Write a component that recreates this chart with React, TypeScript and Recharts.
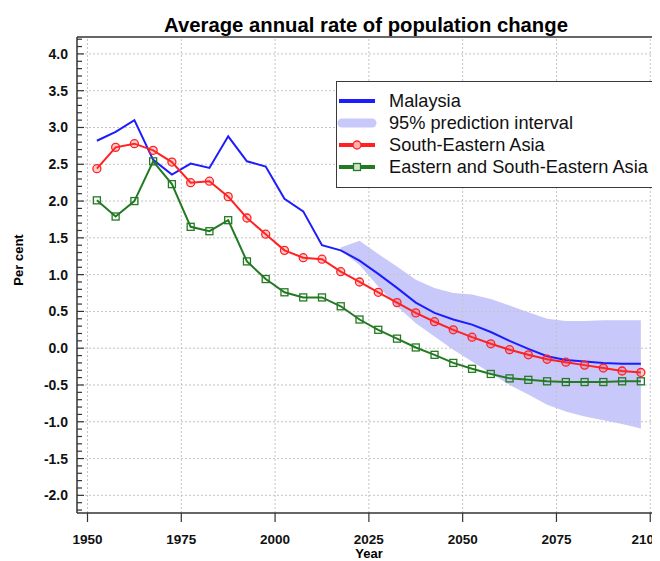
import React from 'react';
import { ComposedChart, Line, Area, XAxis, YAxis, ReferenceLine } from 'recharts';

// mid-points of the five-year periods
const YEARS = [
  1952.5, 1957.5, 1962.5, 1967.5, 1972.5, 1977.5, 1982.5, 1987.5, 1992.5, 1997.5,
  2002.5, 2007.5, 2012.5, 2017.5, 2022.5, 2027.5, 2032.5, 2037.5, 2042.5, 2047.5,
  2052.5, 2057.5, 2062.5, 2067.5, 2072.5, 2077.5, 2082.5, 2087.5, 2092.5, 2097.5,
];

const MALAYSIA = [
  2.82, 2.94, 3.1, 2.56, 2.36, 2.51, 2.45, 2.88, 2.54, 2.47,
  2.03, 1.86, 1.4, 1.33, 1.19, 1.01, 0.82, 0.62, 0.48, 0.39,
  0.32, 0.22, 0.1, -0.01, -0.11, -0.16, -0.18, -0.2, -0.21, -0.21,
];

const SE_ASIA = [
  2.44, 2.73, 2.78, 2.69, 2.53, 2.25, 2.27, 2.06, 1.77, 1.55,
  1.33, 1.23, 1.21, 1.04, 0.9, 0.76, 0.62, 0.48, 0.36, 0.25,
  0.15, 0.06, -0.02, -0.09, -0.15, -0.19, -0.23, -0.27, -0.31, -0.33,
];

const E_SE_ASIA = [
  2.01, 1.79, 2.0, 2.54, 2.23, 1.65, 1.59, 1.74, 1.18, 0.94,
  0.76, 0.69, 0.69, 0.57, 0.39, 0.25, 0.13, 0.01, -0.09, -0.2,
  -0.28, -0.35, -0.41, -0.43, -0.45, -0.46, -0.46, -0.46, -0.45, -0.45,
];

// 95% prediction interval for Malaysia (projections only)
const BAND_LOW = [
  null, null, null, null, null, null, null, null, null, null,
  null, null, null, 1.33, 1.13, 0.84, 0.57, 0.34, 0.16, -0.02,
  -0.18, -0.34, -0.5, -0.63, -0.77, -0.86, -0.93, -0.98, -1.03, -1.09,
];
const BAND_HIGH = [
  null, null, null, null, null, null, null, null, null, null,
  null, null, null, 1.37, 1.46, 1.28, 1.11, 0.93, 0.82, 0.75,
  0.73, 0.67, 0.58, 0.49, 0.4, 0.37, 0.37, 0.38, 0.38, 0.38,
];

const X_TICKS = [1950, 1975, 2000, 2025, 2050, 2075, 2100];
const Y_TICKS = [-2, -1.5, -1, -0.5, 0, 0.5, 1, 1.5, 2, 2.5, 3, 3.5, 4];

const SERIES_NAMES = ['Malaysia', '95% prediction interval', 'South-Eastern Asia', 'Eastern and South-Eastern Asia'];

const FONT = '"Liberation Sans", Arial, Helvetica, sans-serif';
const BLUE = '#1c1cff';
const BAND = '#c8c8fa';
const RED = '#ff2121';
const GREEN = '#237a23';
const AXIS = '#333';
const GRID = '#c4c4c4';

const data = YEARS.map((year, i) => ({
  year,
  malaysia: MALAYSIA[i],
  seAsia: SE_ASIA[i],
  eseAsia: E_SE_ASIA[i],
  band: BAND_LOW[i] == null ? null : [BAND_LOW[i], BAND_HIGH[i]],
}));

// minor ticks every 0.1 on the y axis, labels only on the 0.5 steps
const yMinorTicks: number[] = [];
for (let i = -22; i <= 42; i++) yMinorTicks.push(i / 10);

function YTick(props: any) {
  const { x, y, payload } = props;
  const v = payload.value as number;
  const major = Y_TICKS.some((t) => Math.abs(t - v) < 1e-6);
  return (
    <g>
      <line x1={x} x2={x + (major ? 7 : 5)} y1={y} y2={y} stroke={AXIS} strokeWidth={1.2} />
      {major && (
        <text x={x - 9} y={y} dy={5} textAnchor="end" fontFamily={FONT} fontSize={14} fontWeight="bold" fill="#111">
          {v.toFixed(1)}
        </text>
      )}
    </g>
  );
}

function SquareDot(props: any) {
  const { cx, cy, index } = props;
  if (cx == null || cy == null) return <g key={index} />;
  return <rect key={index} x={cx - 3.5} y={cy - 3.5} width={7} height={7} fill="none" stroke={GREEN} strokeWidth={1.3} />;
}

function LegendSample({ kind }: { kind: number }) {
  return (
    <svg width={40} height={14} style={{ display: 'block' }}>
      {kind === 1 ? (
        <line x1={5} x2={35} y1={7} y2={7} stroke={BAND} strokeWidth={9} strokeLinecap="round" />
      ) : (
        <line x1={2} x2={38} y1={7} y2={7} stroke={[BLUE, BAND, RED, GREEN][kind]} strokeWidth={4} />
      )}
      {kind === 2 && <circle cx={20} cy={7} r={4} fill="#ffb0b0" stroke={RED} strokeWidth={1.3} />}
      {kind === 3 && <rect x={16.5} y={3.5} width={7} height={7} fill="#cfe3cf" stroke={GREEN} strokeWidth={1.3} />}
    </svg>
  );
}

export default function App() {
  return (
    <div style={{ position: 'relative', width: 652, height: 553, fontFamily: FONT }}>
      <ComposedChart width={652} height={553} data={data} margin={{ top: 29, right: 0, bottom: 0, left: 0 }}>
        <XAxis
          dataKey="year"
          type="number"
          domain={[1947.2, 2102.6]}
          ticks={X_TICKS}
          allowDataOverflow
          height={48}
          tickSize={9}
          tickMargin={12}
          stroke={AXIS}
          axisLine={{ stroke: AXIS, strokeWidth: 1.5 }}
          tickLine={{ stroke: AXIS, strokeWidth: 1.2 }}
          tick={{ fontFamily: FONT, fontSize: 13.5, fontWeight: 'bold', fill: '#111' }}
        />
        <YAxis
          type="number"
          domain={[-2.24, 4.23]}
          ticks={yMinorTicks}
          interval={0}
          allowDataOverflow
          width={69}
          tickSize={0}
          tickMargin={0}
          tickLine={false}
          axisLine={{ stroke: AXIS, strokeWidth: 1.5 }}
          tick={<YTick />}
        />
        {Y_TICKS.map((t) => (
          <ReferenceLine key={'h' + t} y={t} stroke={GRID} strokeDasharray="2 2" />
        ))}
        {X_TICKS.map((t) => (
          <ReferenceLine key={'v' + t} x={t} stroke={GRID} strokeDasharray="2 2" />
        ))}
        <ReferenceLine y={4.23} stroke={AXIS} strokeWidth={1.5} />
        <Area
          type="linear"
          dataKey="band"
          fill={BAND}
          fillOpacity={1}
          stroke="none"
          isAnimationActive={false}
        />
        <Line type="linear" dataKey="malaysia" stroke={BLUE} strokeWidth={2} dot={false} isAnimationActive={false} />
        <Line
          type="linear"
          dataKey="seAsia"
          stroke={RED}
          strokeWidth={2}
          dot={{ r: 4, stroke: RED, strokeWidth: 1.3, fill: 'rgba(255,60,60,0.25)' }}
          isAnimationActive={false}
        />
        <Line
          type="linear"
          dataKey="eseAsia"
          stroke={GREEN}
          strokeWidth={2}
          dot={<SquareDot />}
          isAnimationActive={false}
        />
        <text x={358} y={24} textAnchor="middle" fontFamily={FONT} fontSize={20.3} fontWeight="bold" fill="#000">
          Average annual rate of population change
        </text>
        <text
          x={10}
          y={252}
          transform="rotate(-90 10 252)"
          textAnchor="middle"
          dominantBaseline="central"
          fontFamily={FONT}
          fontSize={13}
          fontWeight="bold"
          fill="#000"
        >
          Per cent
        </text>
        <text x={361} y={550} textAnchor="middle" fontFamily={FONT} fontSize={13} fontWeight="bold" fill="#000">
          Year
        </text>
      </ComposedChart>
      <div
        style={{
          position: 'absolute',
          left: 328,
          top: 73,
          width: 317,
          height: 97,
          border: '1.5px solid #3a3a3a',
          background: '#fff',
          boxSizing: 'content-box',
          paddingTop: 8,
        }}
      >
        {SERIES_NAMES.map((name, k) => (
          <div key={name} style={{ display: 'flex', alignItems: 'center', height: 22 }}>
            <div style={{ width: 52 }}>
              <LegendSample kind={k} />
            </div>
            <span style={{ fontSize: 18.2, color: '#111', whiteSpace: 'nowrap' }}>{name}</span>
          </div>
        ))}
      </div>
    </div>
  );
}
